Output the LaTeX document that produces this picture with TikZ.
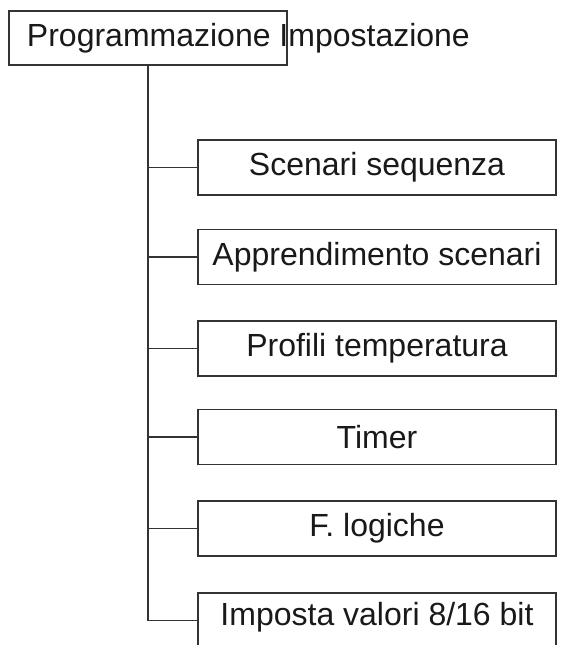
\documentclass[tikz,border=0pt]{standalone}
\usepackage{fontspec}
\setmainfont{Liberation Sans}

\begin{document}
\begin{tikzpicture}[x=1pt,y=-1pt,
    box/.style={draw=black!80, line width=1.8pt, text=black!90,
        minimum width=358pt, minimum height=55pt, inner sep=0pt,
        font=\fontsize{32}{36}\selectfont},
    branch/.style={draw=black!80, line width=1.8pt}]
    \useasboundingbox (0,0) rectangle (562,645);
    \clip (0,0) rectangle (562,645);
    \node[box, minimum width=278pt, minimum height=54pt, inner xsep=18pt] (prog) at (148,38)
        {\makebox[242pt][l]{Programmazione Impostazione}};
    \node[box] (seq) at (377,167.5) {Scenari sequenza};
    \node[box] (app) at (377,257) {Apprendimento scenari};
    \node[box] (temp) at (377,348.5) {Profili temperatura};
    \node[box] (timer) at (377,437) {Timer};
    \node[box] (logic) at (377,528.5) {F. logiche};
    \node[box, text depth=14pt] (val) at (377,620.5) {Imposta valori 8/16 bit};
    \draw[branch] (prog.south) |- (val.west);
    \draw[branch] (prog.south |- seq.west) -- (seq.west);
    \draw[branch] (prog.south |- app.west) -- (app.west);
    \draw[branch] (prog.south |- temp.west) -- (temp.west);
    \draw[branch] (prog.south |- timer.west) -- (timer.west);
    \draw[branch] (prog.south |- logic.west) -- (logic.west);
\end{tikzpicture}
\end{document}
